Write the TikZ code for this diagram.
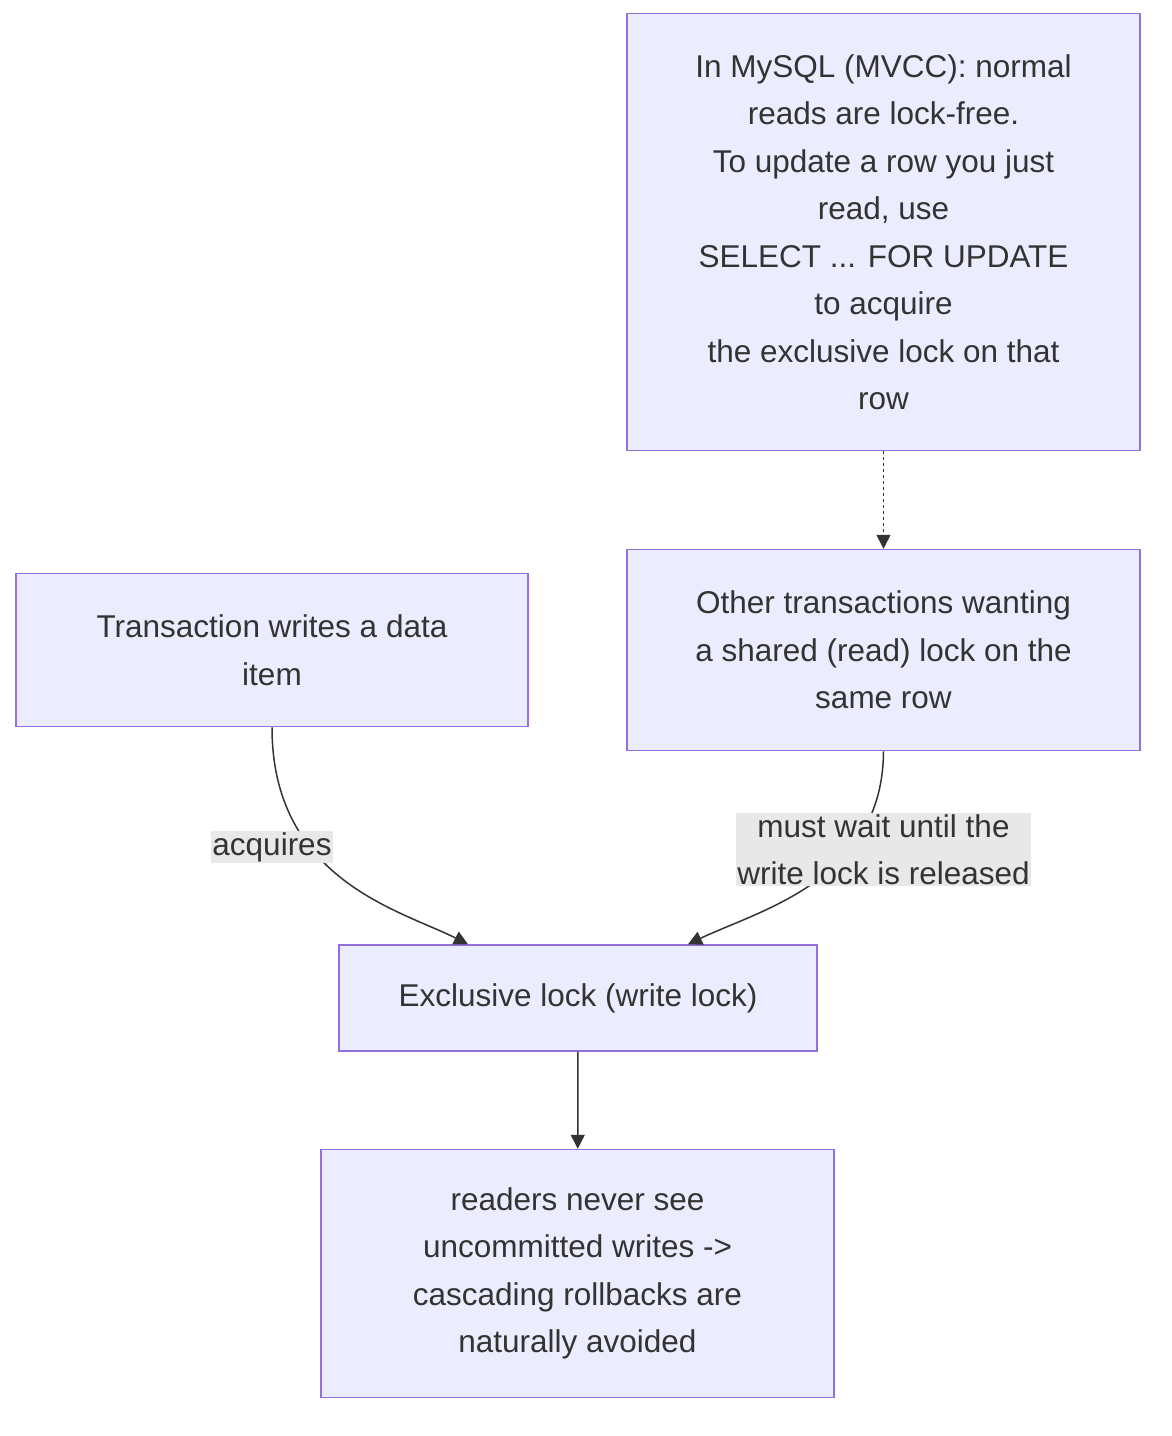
\documentclass[tikz,border=0pt]{standalone}
\usepackage{fontspec}
\setmainfont{Liberation Sans}
\usetikzlibrary{arrows.meta,positioning}
\definecolor{boxfill}{HTML}{ECECFF}
\definecolor{boxline}{HTML}{9370DB}
\definecolor{ink}{HTML}{333333}
\definecolor{lblfill}{HTML}{E8E8E8}
\begin{document}
\begin{tikzpicture}[x=1pt,y=-1pt,>={Triangle[length=14pt,width=14pt]},
    box/.style={draw=boxline,fill=boxfill,line width=1.5pt,text=ink,align=center,
      inner sep=0pt,font=\fontsize{31.5}{47.5}\selectfont},
    lbl/.style={fill=lblfill,text=ink,align=center,inner sep=1pt,font=\fontsize{31.5}{47.5}\selectfont},
    conn/.style={draw=ink,line width=1.5pt}]
    \useasboundingbox (0,0) rectangle (1172,1436);

    \node[box,minimum width=513pt,minimum height=437pt] (note) at (883.5,232)
      {In MySQL (MVCC): normal\\reads are lock-free.\\To update a row you just\\read, use\\SELECT ... FOR UPDATE\\to acquire\\the exclusive lock on that\\row};
    \node[box,minimum width=513pt,minimum height=201pt] (other) at (883.5,650)
      {Other transactions wanting\\a shared (read) lock on the\\same row};
    \node[box,minimum width=512pt,minimum height=153pt] (tx) at (272,650)
      {Transaction writes a data\\item};
    \node[box,minimum width=478pt,minimum height=106pt] (excl) at (578,998)
      {Exclusive lock (write lock)};
    \node[box,minimum width=513pt,minimum height=248pt] (readers) at (577.5,1273.5)
      {readers never see\\uncommitted writes ->\\cascading rollbacks are\\naturally avoided};

    \draw[conn,->,dash pattern=on 3pt off 3pt] (note) -- (other);
    \draw[conn,->] (tx.south) .. controls (272,880) and (400,910) .. ([xshift=-110pt]excl.north);
    \draw[conn,->] (other.south) .. controls (883,880) and (760,910) .. ([xshift=110pt]excl.north);
    \draw[conn,->] (excl) -- (readers);

    \node[lbl] (acq) at (272,847) {acquires};
    \node[lbl] (wait) at (883.5,849.5) {must wait until the\\write lock is released};
\end{tikzpicture}
\end{document}
